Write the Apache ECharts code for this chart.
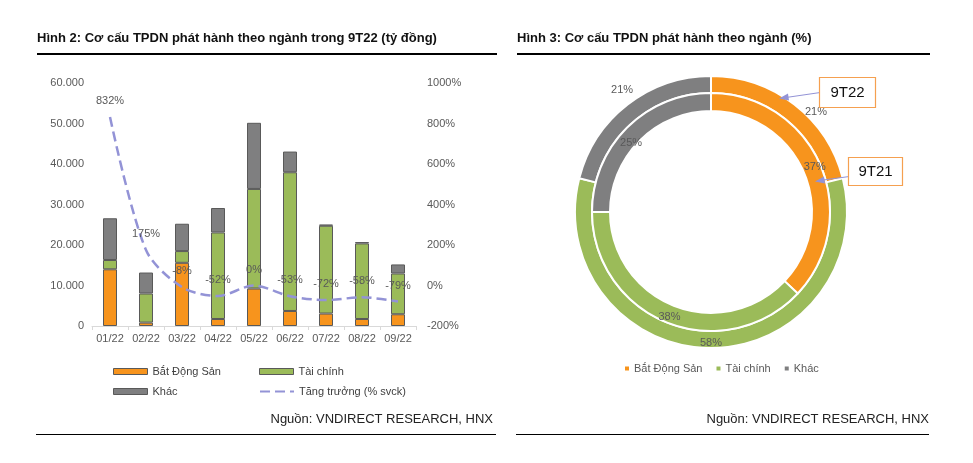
<!DOCTYPE html>
<html>
<head>
<meta charset="utf-8">
<script src="https://cdn.jsdelivr.net/npm/echarts@6/dist/echarts.min.js"></script>
<style>
html,body{margin:0;padding:0;background:#fff;}
#c{width:973px;height:463px;}
</style>
</head>
<body>
<div id="c"></div>
<script>
// ---- Data ----
var categories = ['01/22','02/22','03/22','04/22','05/22','06/22','07/22','08/22','09/22'];
var batDongSan = [14000, 840, 15600, 1730, 9250, 3710, 3070, 1730, 2900];
var taiChinh   = [2300, 7180, 2900, 21370, 24590, 34250, 21680, 18660, 10070];
var khac       = [10300, 5180, 6750, 6030, 16330, 5110, 300, 330, 2230];
var tangTruong = [832, 175, -8, -52, 0, -53, -72, -58, -79];

var pieNames = ['Bắt Động Sản', 'Tài chính', 'Khác'];
var share9T22 = [21, 58, 21];
var share9T21 = [37, 38, 25];

var leftTicks = { min: 0, max: 60000, interval: 10000 };
var rightTicks = { min: -200, max: 1000, interval: 200 };

var C_ORANGE = '#F7941D', C_GREEN = '#9BBB59', C_GRAY = '#7F7F80', C_LINE = '#9393D6';
var pieColors = [C_ORANGE, C_GREEN, C_GRAY];
var FONT = '"Liberation Sans", Arial, sans-serif';

function fmtThousands(v){
  return String(v).replace(/\B(?=(\d{3})+(?!\d))/g, '.');
}

var chart = echarts.init(document.getElementById('c'), null, {renderer:'canvas'});

var legendBase = {
  padding: 0, itemGap: 0, itemWidth: 34, itemHeight: 6, icon: 'rect',
  textStyle: { fontFamily: FONT, fontSize: 11, color: '#404040' }
};
function mkLegend(name, left, top, extra){
  return Object.assign({}, legendBase, { data: [name], left: left, top: top }, extra || {});
}

var option = {
  animation: false,
  backgroundColor: '#fff',
  textStyle: { fontFamily: FONT },
  title: [
    { text: 'Hình 2: Cơ cấu TPDN phát hành theo ngành trong 9T22 (tỷ đồng)', left: 37, top: 32, padding: 0,
      textStyle: { fontFamily: FONT, fontSize: 13, fontWeight: 'bold', color: '#111' } },
    { text: 'Hình 3: Cơ cấu TPDN phát hành theo ngành (%)', left: 517, top: 32, padding: 0,
      textStyle: { fontFamily: FONT, fontSize: 13, fontWeight: 'bold', color: '#111' } },
    { text: 'Nguồn: VNDIRECT RESEARCH, HNX', right: 480, top: 413, padding: 0,
      textStyle: { fontFamily: FONT, fontSize: 13, fontWeight: 'normal', color: '#222' } },
    { text: 'Nguồn: VNDIRECT RESEARCH, HNX', right: 44, top: 413, padding: 0,
      textStyle: { fontFamily: FONT, fontSize: 13, fontWeight: 'normal', color: '#222' } }
  ],
  legend: [
    mkLegend('Bắt Động Sản', 113, 366, { itemStyle: { borderColor: '#595959', borderWidth: 1 } }),
    mkLegend('Tài chính', 259, 366, { itemStyle: { borderColor: '#595959', borderWidth: 1 } }),
    mkLegend('Khác', 113, 386, { itemStyle: { borderColor: '#595959', borderWidth: 1 } }),
    mkLegend('Tăng trưởng (% svck)', 259, 386, { icon: null, itemHeight: 10, itemStyle: { opacity: 0 } }),
    { data: pieNames, left: 625, top: 363, padding: 0, itemGap: 14, itemWidth: 4, itemHeight: 4, icon: 'rect',
      itemStyle: { borderWidth: 0 },
      textStyle: { fontFamily: FONT, fontSize: 11, color: '#595959' } }
  ],
  grid: { left: 92, right: 557, top: 83, bottom: 137, containLabel: false },
  xAxis: {
    type: 'category', data: categories,
    axisLine: { lineStyle: { color: '#D9D9D9', width: 1 } },
    axisTick: { show: true, length: 4, lineStyle: { color: '#D9D9D9' } },
    axisLabel: { color: '#595959', fontSize: 11, margin: 7, fontFamily: FONT }
  },
  yAxis: [
    { type: 'value', min: leftTicks.min, max: leftTicks.max, interval: leftTicks.interval,
      splitLine: { show: false }, axisLine: { show: false }, axisTick: { show: false },
      axisLabel: { color: '#595959', fontSize: 11, margin: 8, fontFamily: FONT, formatter: fmtThousands } },
    { type: 'value', min: rightTicks.min, max: rightTicks.max, interval: rightTicks.interval,
      splitLine: { show: false }, axisLine: { show: false }, axisTick: { show: false },
      axisLabel: { color: '#595959', fontSize: 11, margin: 11, fontFamily: FONT,
        formatter: function(v){ return v + '%'; } } }
  ],
  series: [
    { name: 'Bắt Động Sản', type: 'bar', stack: 's', data: batDongSan, barWidth: 14,
      itemStyle: { color: C_ORANGE, borderColor: '#595959', borderWidth: 1 } },
    { name: 'Tài chính', type: 'bar', stack: 's', data: taiChinh, barWidth: 14,
      itemStyle: { color: C_GREEN, borderColor: '#595959', borderWidth: 1 } },
    { name: 'Khác', type: 'bar', stack: 's', data: khac, barWidth: 14,
      itemStyle: { color: C_GRAY, borderColor: '#595959', borderWidth: 1 } },
    { name: 'Tăng trưởng (% svck)', type: 'line', yAxisIndex: 1, data: tangTruong, smooth: 0.3,
      symbol: 'circle', symbolSize: 1, showSymbol: true, z: 5,
      lineStyle: { color: C_LINE, width: 2.5, type: [10, 5] },
      itemStyle: { color: C_LINE, opacity: 0 },
      label: { show: true, position: 'top', distance: 10, color: '#595959', fontSize: 11, fontFamily: FONT,
        opacity: 1, formatter: function(p){ return p.value + '%'; } },
      labelLayout: { hideOverlap: false } },
    { name: '9T22', type: 'pie', center: [711, 212], radius: [119, 136], startAngle: 90, clockwise: true,
      avoidLabelOverlap: false, silent: true,
      itemStyle: { borderColor: '#fff', borderWidth: 2 },
      label: { show: true, position: 'inside', color: '#595959', fontSize: 11, fontFamily: FONT,
        formatter: function(p){ return p.value + '%'; } },
      labelLine: { show: false },
      labelLayout: function(p){
        if (p.dataIndex === 0) return { dx: 25, dy: 3 };
        if (p.dataIndex === 2) return { dx: -9, dy: -19 };
        return {};
      },
      data: pieNames.map(function(n, i){ return { name: n, value: share9T22[i], itemStyle: { color: pieColors[i] } }; }) },
    { name: '9T21', type: 'pie', center: [711, 212], radius: [101, 119], startAngle: 90, clockwise: true,
      avoidLabelOverlap: false, silent: true,
      itemStyle: { borderColor: '#fff', borderWidth: 2 },
      label: { show: true, position: 'inside', color: '#595959', fontSize: 11, fontFamily: FONT,
        formatter: function(p){ return p.value + '%'; } },
      labelLine: { show: false },
      labelLayout: function(p){
        if (p.dataIndex === 2) return { dx: 0, dy: 11 };
        return {};
      },
      data: pieNames.map(function(n, i){ return { name: n, value: share9T21[i], itemStyle: { color: pieColors[i] } }; }) }
  ],
  graphic: [
    { type: 'line', shape: { x1: 37, y1: 54, x2: 497, y2: 54 }, style: { stroke: '#000', lineWidth: 2 } },
    { type: 'line', shape: { x1: 517, y1: 54, x2: 930, y2: 54 }, style: { stroke: '#000', lineWidth: 2 } },
    { type: 'line', shape: { x1: 36, y1: 434.5, x2: 496, y2: 434.5 }, style: { stroke: '#000', lineWidth: 1 } },
    { type: 'line', shape: { x1: 516, y1: 434.5, x2: 929, y2: 434.5 }, style: { stroke: '#000', lineWidth: 1 } },
    // callout 9T22
    { type: 'rect', shape: { x: 819.5, y: 77.5, width: 56, height: 30 }, style: { fill: '#fff', stroke: '#F5A050', lineWidth: 1.2 }, z: 10 },
    { type: 'text', x: 847.5, y: 92.5, style: { text: '9T22', fontFamily: FONT, fontSize: 15, fill: '#111', align: 'center', verticalAlign: 'middle' }, z: 11 },
    { type: 'line', shape: { x1: 819, y1: 92.7, x2: 786, y2: 97.5 }, style: { stroke: C_LINE, lineWidth: 1 }, z: 10 },
    { type: 'polygon', shape: { points: [[779, 98.5], [788, 93.5], [789, 100.5]] }, style: { fill: C_LINE }, z: 10 },
    // callout 9T21
    { type: 'rect', shape: { x: 848.5, y: 157.5, width: 54, height: 28 }, style: { fill: '#fff', stroke: '#F5A050', lineWidth: 1.2 }, z: 10 },
    { type: 'text', x: 875.5, y: 171.5, style: { text: '9T21', fontFamily: FONT, fontSize: 15, fill: '#111', align: 'center', verticalAlign: 'middle' }, z: 11 },
    { type: 'line', shape: { x1: 848, y1: 176.7, x2: 822, y2: 180.2 }, style: { stroke: C_LINE, lineWidth: 1 }, z: 10 },
    { type: 'polygon', shape: { points: [[815, 181.5], [824, 176.5], [825, 183.5]] }, style: { fill: C_LINE }, z: 10 }
  ]
};
chart.setOption(option);
</script>
</body>
</html>
